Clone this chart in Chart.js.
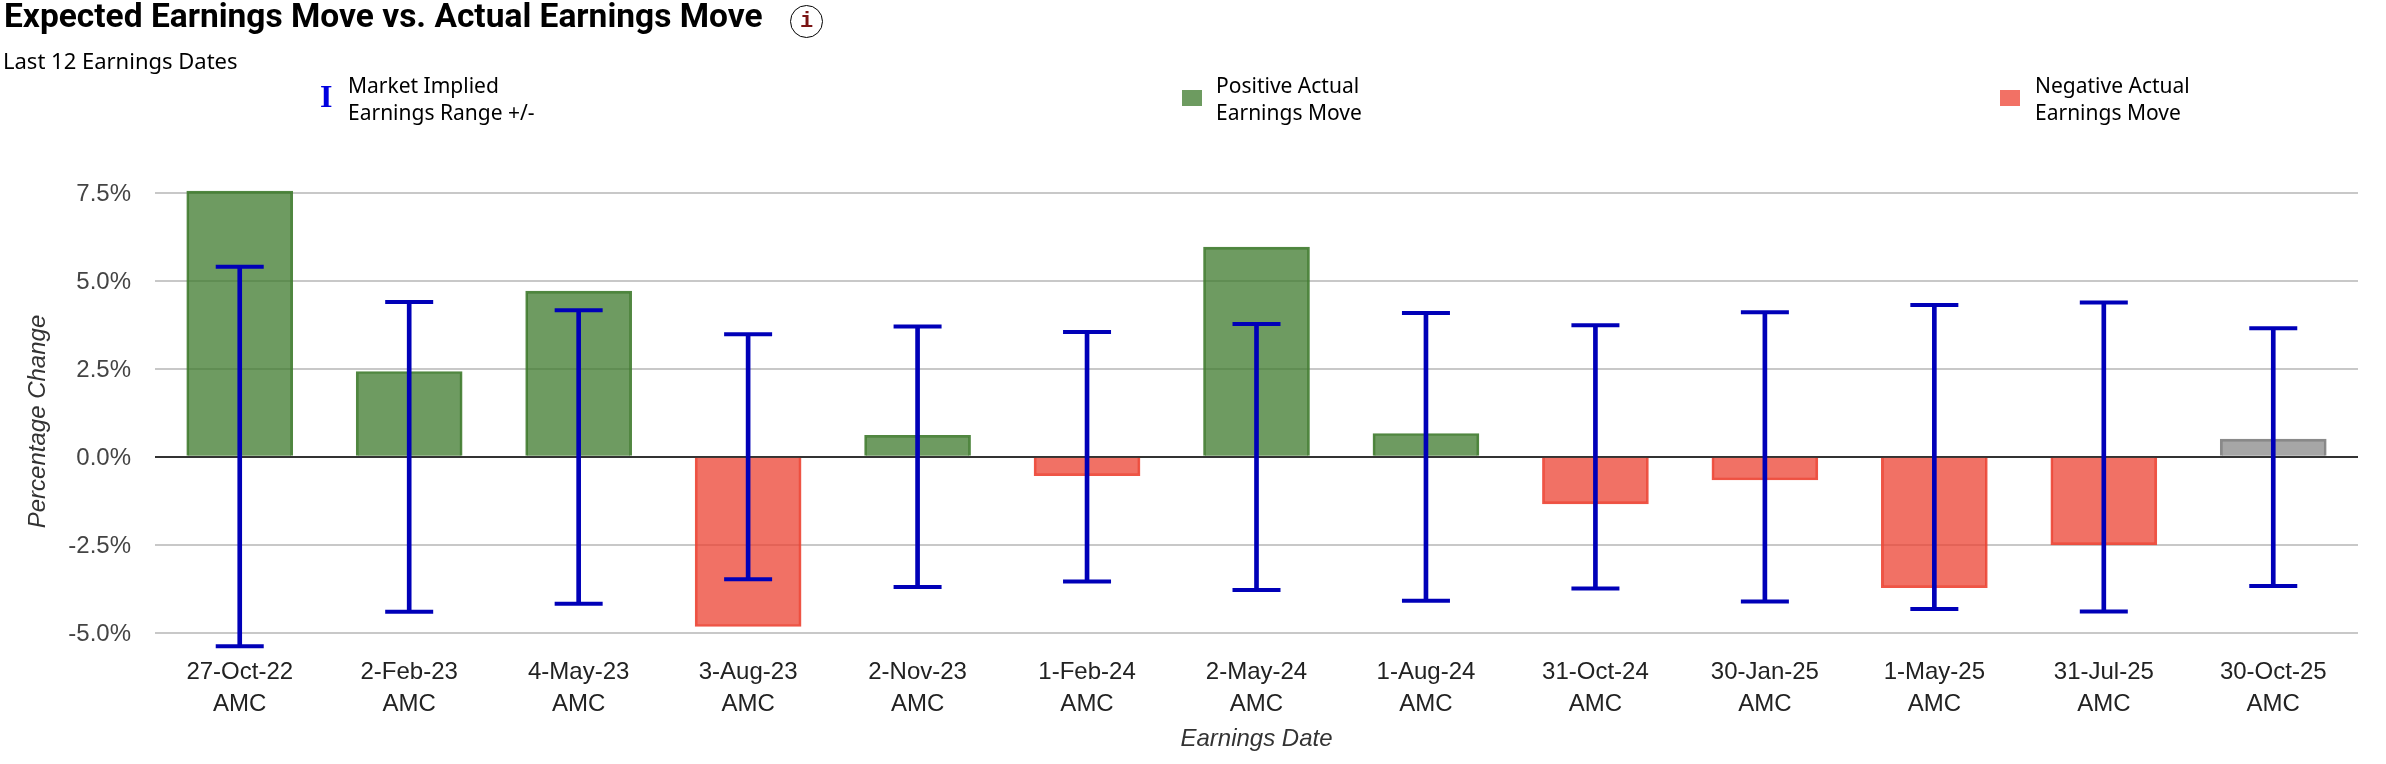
<!DOCTYPE html>
<html>
<head>
<meta charset="utf-8">
<title>Expected Earnings Move vs. Actual Earnings Move</title>
<script src="https://cdn.jsdelivr.net/npm/chart.js@4"></script>
<style>
    html, body { margin: 0; padding: 0; background: #fff; width: 2386px; height: 764px; overflow: hidden; }
    body { position: relative; font-family: "Noto Sans", sans-serif; color: #000; }
    canvas { position: absolute; left: 0; top: 0; }
    .txt { position: absolute; white-space: nowrap; }
    #title { left: 4px; top: -1px; font: 700 33.5px/34px Roboto, sans-serif; }
    #subtitle { left: 3px; top: 46px; font-size: 22px; line-height: 28px; }
    #info {
        left: 790px; top: 5px; width: 31px; height: 31px; border: 1.5px solid #000; border-radius: 50%;
        text-align: center; font: bold 22px/31px "Liberation Mono", monospace; color: #7a1414;
    }
    .legendText { font-size: 21px; line-height: 27px; top: 72px; }
    .swatch { position: absolute; top: 90px; width: 20px; height: 16px; }
    #rangeIcon { left: 320px; top: 78px; font: bold 32px/36px "Liberation Serif", serif; color: #0000e0; }
</style>
</head>
<body>
<canvas id="earningsChart" width="2386" height="764"></canvas>
<div id="title" class="txt">Expected Earnings Move vs. Actual Earnings Move</div>
<div id="info" class="txt">i</div>
<div id="subtitle" class="txt">Last 12 Earnings Dates</div>

<div id="rangeIcon" class="txt">I</div>
<div class="txt legendText" style="left:348px">Market Implied<br>Earnings Range +/-</div>
<div class="swatch" style="left:1182px;background:#6d9b60"></div>
<div class="txt legendText" style="left:1216px">Positive Actual<br>Earnings Move</div>
<div class="swatch" style="left:2000px;background:#f27165"></div>
<div class="txt legendText" style="left:2035px">Negative Actual<br>Earnings Move</div>

<script>
const earningsDates = ['27-Oct-22', '2-Feb-23', '4-May-23', '3-Aug-23', '2-Nov-23', '1-Feb-24', '2-May-24',
    '1-Aug-24', '31-Oct-24', '30-Jan-25', '1-May-25', '31-Jul-25', '30-Oct-25'];
const sessions = ['AMC', 'AMC', 'AMC', 'AMC', 'AMC', 'AMC', 'AMC', 'AMC', 'AMC', 'AMC', 'AMC', 'AMC', 'AMC'];

// actual move after each report, last one is still open
const actualMove = [7.54, 2.42, 4.70, -4.82, 0.61, -0.54, 5.95, 0.66, -1.34, -0.66, -3.72, -2.50, 0.50];
const impliedHigh = [5.39, 4.39, 4.16, 3.48, 3.70, 3.54, 3.77, 4.08, 3.73, 4.10, 4.31, 4.38, 3.65];
const impliedLow = [-5.38, -4.40, -4.17, -3.48, -3.70, -3.54, -3.78, -4.09, -3.74, -4.11, -4.32, -4.39, -3.67];
const yTicks = [-5, -2.5, 0, 2.5, 5, 7.5];

const labels = earningsDates.map((d, i) => [d, sessions[i]]);
const lastIndex = actualMove.length - 1;

function barFill(ctx) {
    if (ctx.dataIndex === lastIndex) return 'rgba(128, 128, 128, 0.7)';
    return ctx.raw >= 0 ? 'rgba(62, 122, 44, 0.75)' : 'rgba(236, 66, 50, 0.75)';
}

function barBorder(ctx) {
    if (ctx.dataIndex === lastIndex) return 'rgba(125, 125, 125, 0.9)';
    return ctx.raw >= 0 ? 'rgba(62, 122, 44, 0.9)' : 'rgba(236, 66, 50, 0.9)';
}

function capDataset(label, values) {
    return {
        type: 'line',
        label: label,
        data: values,
        showLine: false,
        pointStyle: 'line',
        pointRadius: 24,
        pointBorderWidth: 4,
        pointBorderColor: '#0000b8',
        order: 1
    };
}

new Chart(document.getElementById('earningsChart').getContext('2d'), {
    data: {
        labels: labels,
        datasets: [
            {
                type: 'bar',
                label: 'Actual Earnings Move',
                data: actualMove,
                backgroundColor: barFill,
                borderColor: barBorder,
                borderWidth: 2,
                barThickness: 106,
                grouped: false,
                order: 3
            },
            {
                type: 'bar',
                label: 'Market Implied Earnings Range',
                data: impliedLow.map((low, i) => [low, impliedHigh[i]]),
                backgroundColor: '#0000b8',
                barThickness: 4,
                grouped: false,
                order: 2
            },
            capDataset('Implied High', impliedHigh),
            capDataset('Implied Low', impliedLow)
        ]
    },
    options: {
        responsive: false,
        animation: false,
        layout: { padding: { top: 189, right: 25, bottom: 0, left: 21 } },
        plugins: { legend: { display: false }, title: { display: false }, tooltip: { enabled: false } },
        scales: {
            x: {
                offset: true,
                // labels must not eat into the plot width
                afterFit: scale => {
                    scale.height = 110;
                    scale.paddingLeft = 0;
                    scale.paddingRight = 0;
                },
                grid: { display: false, drawTicks: false },
                border: { display: false },
                ticks: {
                    color: '#222',
                    padding: 2,
                    maxRotation: 0,
                    autoSkip: false,
                    font: { family: '"Liberation Sans"', size: 24, lineHeight: 1.33 }
                },
                title: {
                    display: true,
                    text: 'Earnings Date',
                    color: '#333',
                    padding: { top: 4, bottom: 10 },
                    font: { family: '"Liberation Sans"', size: 24, style: 'italic' }
                }
            },
            y: {
                min: -5.6,
                max: 7.6,
                afterFit: scale => { scale.width = 134; },
                afterBuildTicks: scale => { scale.ticks = yTicks.map(v => ({ value: v })); },
                grid: {
                    color: ctx => ctx.tick && ctx.tick.value === 0 ? '#333' : '#c8c8c8',
                    lineWidth: 2,
                    drawTicks: false
                },
                border: { display: false },
                ticks: {
                    color: '#444',
                    padding: 24,
                    labelOffset: 2,
                    font: { family: '"Liberation Sans"', size: 24 },
                    callback: v => v.toFixed(1) + '%'
                },
                title: {
                    display: true,
                    text: 'Percentage Change',
                    color: '#333',
                    padding: { top: 3, bottom: 0 },
                    font: { family: '"Liberation Sans"', size: 24, style: 'italic' }
                }
            }
        }
    }
});
</script>
</body>
</html>
